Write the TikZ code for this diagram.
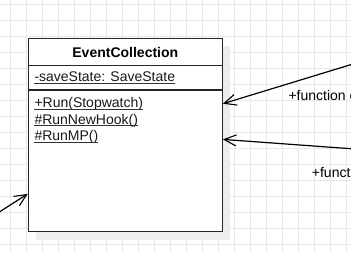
\documentclass[tikz,border=0pt]{standalone}
\usepackage{fontspec}
\setmainfont{Liberation Sans}
\usetikzlibrary{arrows.meta}
\begin{document}
\begin{tikzpicture}[x=1pt,y=-1pt,
  gridline/.style={draw=black!9,line width=0.8pt},
  classbox/.style={draw=black!85,line width=1.2pt,fill=white,inner sep=0pt,
    minimum width=194pt,minimum height=193.4pt},
  boxshadow/.style={fill=black!7},
  member/.style={anchor=base west,inner sep=0pt,text=black!90,font=\fontsize{14}{16}\selectfont},
  uline/.style={draw=black!80,line width=0.9pt},
  sepline/.style={draw=black!85,line width=1.1pt},
  assoc/.style={draw=black,line width=1.2pt,-{Straight Barb[length=12pt,width=11pt,line width=1.1pt]}},
  linklabel/.style={anchor=base west,inner sep=0pt,font=\fontsize{14}{16}\selectfont}]
\useasboundingbox (0,0) rectangle (351,252);
\clip (0,0) rectangle (351,252);
\fill[white] (0,0) rectangle (351,252);
% background grid
\foreach \gx in {10,26,...,346} \draw[gridline] (\gx,0) -- (\gx,252);
\foreach \gy in {4,20,...,244} \draw[gridline] (0,\gy) -- (351,\gy);
% class box with its shadow
\fill[boxshadow] (36,46) rectangle (230.3,239.5);
\node[classbox] (ec) at (125.3,135) {};
\node[anchor=base,inner sep=0pt,font=\bfseries\fontsize{14}{16}\selectfont] (title) at (125.3,57.5) {EventCollection};
\draw[sepline] ([yshift=-27.4pt]ec.north west) -- ([yshift=-27.4pt]ec.north east);
\draw[sepline,line width=1.8pt] ([yshift=-52pt]ec.north west) -- ([yshift=-52pt]ec.north east);
% members
\node[member] (a1) at (34.3,81.7) {-saveState: SaveState};
\node[member] (m1) at (34.3,107.7) {+Run(Stopwatch)};
\node[member] (m2) at (34.3,124) {\#RunNewHook()};
\node[member] (m3) at (34.3,140.5) {\#RunMP()};
\foreach \n in {a1,m1,m2,m3}
  \draw[uline] ([yshift=-1.8pt]\n.base west) -- ([yshift=-1.8pt]\n.base east);
% incoming associations
\coordinate (s1) at (352,64.3);
\coordinate (s2) at (352,148.8);
\coordinate (s3) at (-1,212.2);
\draw[assoc] (s1) -- ([yshift=-66pt]ec.north east);
\draw[assoc] (s2) -- ([yshift=-101.7pt]ec.north east);
\draw[assoc] (s3) -- ([yshift=-156.2pt]ec.north west);
\node[linklabel] (l1) at (288.3,100.7) {+function call};
\node[linklabel] (l2) at (311.7,177.3) {+function call};
\end{tikzpicture}
\end{document}
